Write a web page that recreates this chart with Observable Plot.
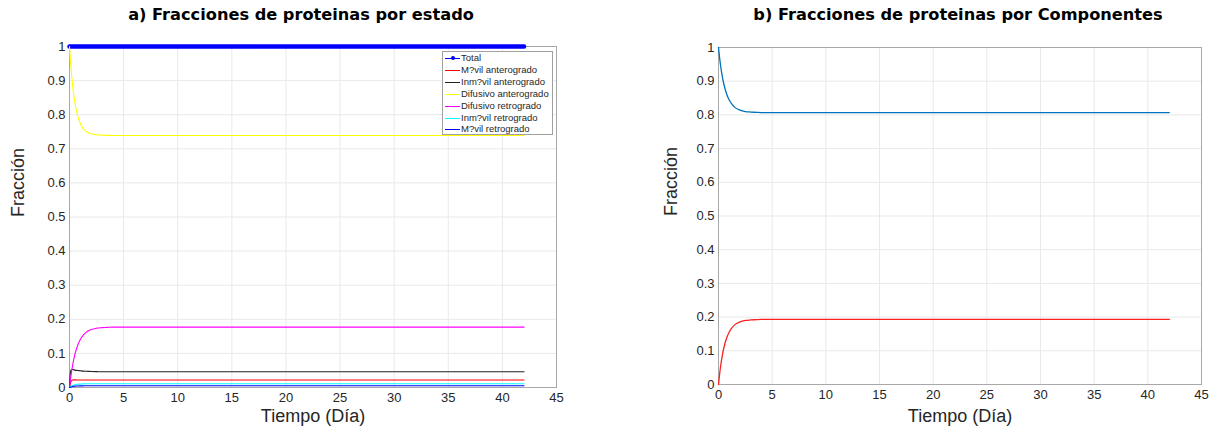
<!DOCTYPE html>
<html>
<head>
<meta charset="utf-8">
<script src="https://cdn.jsdelivr.net/npm/d3@7"></script>
<script src="https://cdn.jsdelivr.net/npm/@observablehq/plot@0.6"></script>
<style>
  body { margin: 0; background: #fff; }
  #wrap { position: relative; width: 1212px; height: 431px; background: #fff; overflow: hidden; }
  .title { position: absolute; top: 5px; font-family: "DejaVu Sans", Verdana, sans-serif; font-weight: bold; font-size: 16.2px; color: #000; white-space: nowrap; transform: translateX(-50%); }
  .chart { position: absolute; top: 30px; }
  #legend { position: absolute; left: 442px; top: 51px; width: 109px; height: 82px; background: #fff; border: 1px solid #a0a0a0; font-family: "Liberation Sans", Arial, sans-serif; font-size: 9.5px; color: #262626; }
  .row { position: absolute; left: 0; height: 12px; line-height: 12px; white-space: nowrap; }
  .sw { position: absolute; left: 2px; top: 6px; width: 15px; height: 0; }
  .lab { position: absolute; left: 18px; top: 0; }
</style>
</head>
<body>
<div id="wrap">
  <div class="title" style="left:301px">a) Fracciones de proteinas por estado</div>
  <div class="title" style="left:958px">b) Fracciones de proteinas por Componentes</div>
  <div class="chart" id="left" style="left:0px"></div>
  <div class="chart" id="right" style="left:606px"></div>
  <div id="legend"></div>
</div>
<script>
// Time (days)
const tiempo = [0, 0.1, 0.2, 0.3, 0.4, 0.5, 0.75, 1, 1.25, 1.5, 2, 2.5, 3, 3.5, 4, 5, 6, 8, 10, 15, 20, 25, 30, 35, 40, 42];

// Panel a) series
const total          = [1, 1, 1, 1, 1, 1, 1, 1, 1, 1, 1, 1, 1, 1, 1, 1, 1, 1, 1, 1, 1, 1, 1, 1, 1, 1];
const movilAntero    = [0, 0.015, 0.020, 0.022, 0.0225, 0.0223, 0.022, 0.022, 0.022, 0.022, 0.022, 0.022, 0.022, 0.022, 0.022, 0.022, 0.022, 0.022, 0.022, 0.022, 0.022, 0.022, 0.022, 0.022, 0.022, 0.022];
const inmovilAntero  = [0, 0.048, 0.053, 0.053, 0.052, 0.051, 0.050, 0.049, 0.048, 0.0475, 0.047, 0.0465, 0.046, 0.046, 0.046, 0.046, 0.046, 0.046, 0.046, 0.046, 0.046, 0.046, 0.046, 0.046, 0.046, 0.046];
const difusAntero    = [1, 0.953, 0.914, 0.882, 0.856, 0.835, 0.797, 0.774, 0.760, 0.752, 0.744, 0.741, 0.740, 0.7395, 0.739, 0.739, 0.739, 0.739, 0.739, 0.739, 0.739, 0.739, 0.739, 0.739, 0.739, 0.739];
const difusRetro     = [0, 0.026, 0.048, 0.067, 0.083, 0.097, 0.123, 0.141, 0.153, 0.161, 0.170, 0.174, 0.1755, 0.1763, 0.177, 0.177, 0.177, 0.177, 0.177, 0.177, 0.177, 0.177, 0.177, 0.177, 0.177, 0.177];
const inmovilRetro   = [0, 0.003, 0.005, 0.006, 0.0075, 0.008, 0.0095, 0.010, 0.0105, 0.0108, 0.011, 0.011, 0.011, 0.011, 0.011, 0.011, 0.011, 0.011, 0.011, 0.011, 0.011, 0.011, 0.011, 0.011, 0.011, 0.011];
const movilRetro     = [0, 0.001, 0.002, 0.003, 0.0035, 0.004, 0.0045, 0.0048, 0.0049, 0.005, 0.005, 0.005, 0.005, 0.005, 0.005, 0.005, 0.005, 0.005, 0.005, 0.005, 0.005, 0.005, 0.005, 0.005, 0.005, 0.005];

// Panel b) series
const componenteAntero = [1, 0.970, 0.945, 0.924, 0.906, 0.891, 0.863, 0.844, 0.832, 0.823, 0.814, 0.810, 0.8085, 0.8077, 0.807, 0.807, 0.807, 0.807, 0.807, 0.807, 0.807, 0.807, 0.807, 0.807, 0.807, 0.807];
const componenteRetro  = [0, 0.030, 0.055, 0.076, 0.094, 0.109, 0.137, 0.156, 0.168, 0.177, 0.186, 0.190, 0.1915, 0.1923, 0.193, 0.193, 0.193, 0.193, 0.193, 0.193, 0.193, 0.193, 0.193, 0.193, 0.193, 0.193];

// Legend names (as in the original)
const seriesNames = ["Total", "M?vil anterogrado", "Inm?vil anterogrado", "Difusivo anterogrado", "Difusivo retrogrado", "Inm?vil retrogrado", "M?vil retrogrado"];
const seriesColors = ["#0000ff", "#ff0000", "#222222", "#ffff00", "#ff00ff", "#00ffff", "#0000ff"];
const seriesValues = [total, movilAntero, inmovilAntero, difusAntero, difusRetro, inmovilRetro, movilRetro];

const compNames = ["Anterogrado", "Retrogrado"];
const compColors = ["#0072bd", "#ff2020"];
const compValues = [componenteAntero, componenteRetro];

const xTicks = [0, 5, 10, 15, 20, 25, 30, 35, 40, 45];
const yTicks = [0, 0.1, 0.2, 0.3, 0.4, 0.5, 0.6, 0.7, 0.8, 0.9, 1];

const tidy = (names, values) => names.flatMap((n, i) => tiempo.map((t, j) => ({serie: n, t, v: values[i][j]})));
const rowsA = tidy(seriesNames, seriesValues);
const rowsB = tidy(compNames, compValues);

function frameMarks(xLabelDy, yLabelDx) {
  return [
    Plot.gridX(xTicks, {stroke: "#e9e9e9", strokeOpacity: 1}),
    Plot.gridY(yTicks, {stroke: "#e9e9e9", strokeOpacity: 1}),
    Plot.frame({stroke: "#a8a8a8"}),
    Plot.axisX(xTicks, {tickSize: 0, tickPadding: 5, label: null, tickFormat: d => String(d), fontSize: 13, fill: "#262626"}),
    Plot.axisY(yTicks, {tickSize: 0, tickPadding: 4, label: null, tickFormat: d => String(+d.toFixed(1)), fontSize: 13, fill: "#262626"}),
    Plot.text(["Tiempo (Día)"], {frameAnchor: "bottom", dy: xLabelDy, fontSize: 18, fill: "#262626"}),
    Plot.text(["Fracción"], {frameAnchor: "left", dx: yLabelDx, rotate: -90, fontSize: 18, fill: "#262626"})
  ];
}

const left = Plot.plot({
  width: 606, height: 401,
  marginLeft: 69, marginRight: 50, marginTop: 16, marginBottom: 44,
  x: {domain: [0, 45]},
  y: {domain: [0, 1]},
  style: {fontFamily: "'Liberation Sans', Arial, sans-serif", background: "#fff"},
  marks: [
    ...frameMarks(34, -51),
    ...seriesNames.map((n, i) => Plot.line(rowsA.filter(d => d.serie === n), {
      x: "t", y: "v", stroke: seriesColors[i], strokeWidth: i === 0 ? 4.5 : 1.1, curve: "monotone-x"
    }))
  ]
});
document.getElementById("left").appendChild(left);

const right = Plot.plot({
  width: 606, height: 401,
  marginLeft: 112, marginRight: 11, marginTop: 17, marginBottom: 47,
  x: {domain: [0, 45]},
  y: {domain: [0, 1]},
  style: {fontFamily: "'Liberation Sans', Arial, sans-serif", background: "#fff"},
  marks: [
    ...frameMarks(37, -47),
    ...compNames.map((n, i) => Plot.line(rowsB.filter(d => d.serie === n), {
      x: "t", y: "v", stroke: compColors[i], strokeWidth: 1.3, curve: "monotone-x"
    }))
  ]
});
document.getElementById("right").appendChild(right);

// Legend for panel a)
const legend = document.getElementById("legend");
seriesNames.forEach((n, i) => {
  const row = document.createElement("div");
  row.className = "row";
  row.style.top = (0 + i * 11.9) + "px";
  row.style.width = "100%";
  const sw = document.createElement("div");
  sw.className = "sw";
  sw.style.borderTop = "1.3px solid " + seriesColors[i];
  row.appendChild(sw);
  if (i === 0) {
    const dot = document.createElement("div");
    dot.style.cssText = "position:absolute;left:8px;top:4px;width:4px;height:4px;border-radius:50%;background:" + seriesColors[i];
    row.appendChild(dot);
  }
  const lab = document.createElement("div");
  lab.className = "lab";
  lab.textContent = n;
  row.appendChild(lab);
  legend.appendChild(row);
});
</script>
</body>
</html>
